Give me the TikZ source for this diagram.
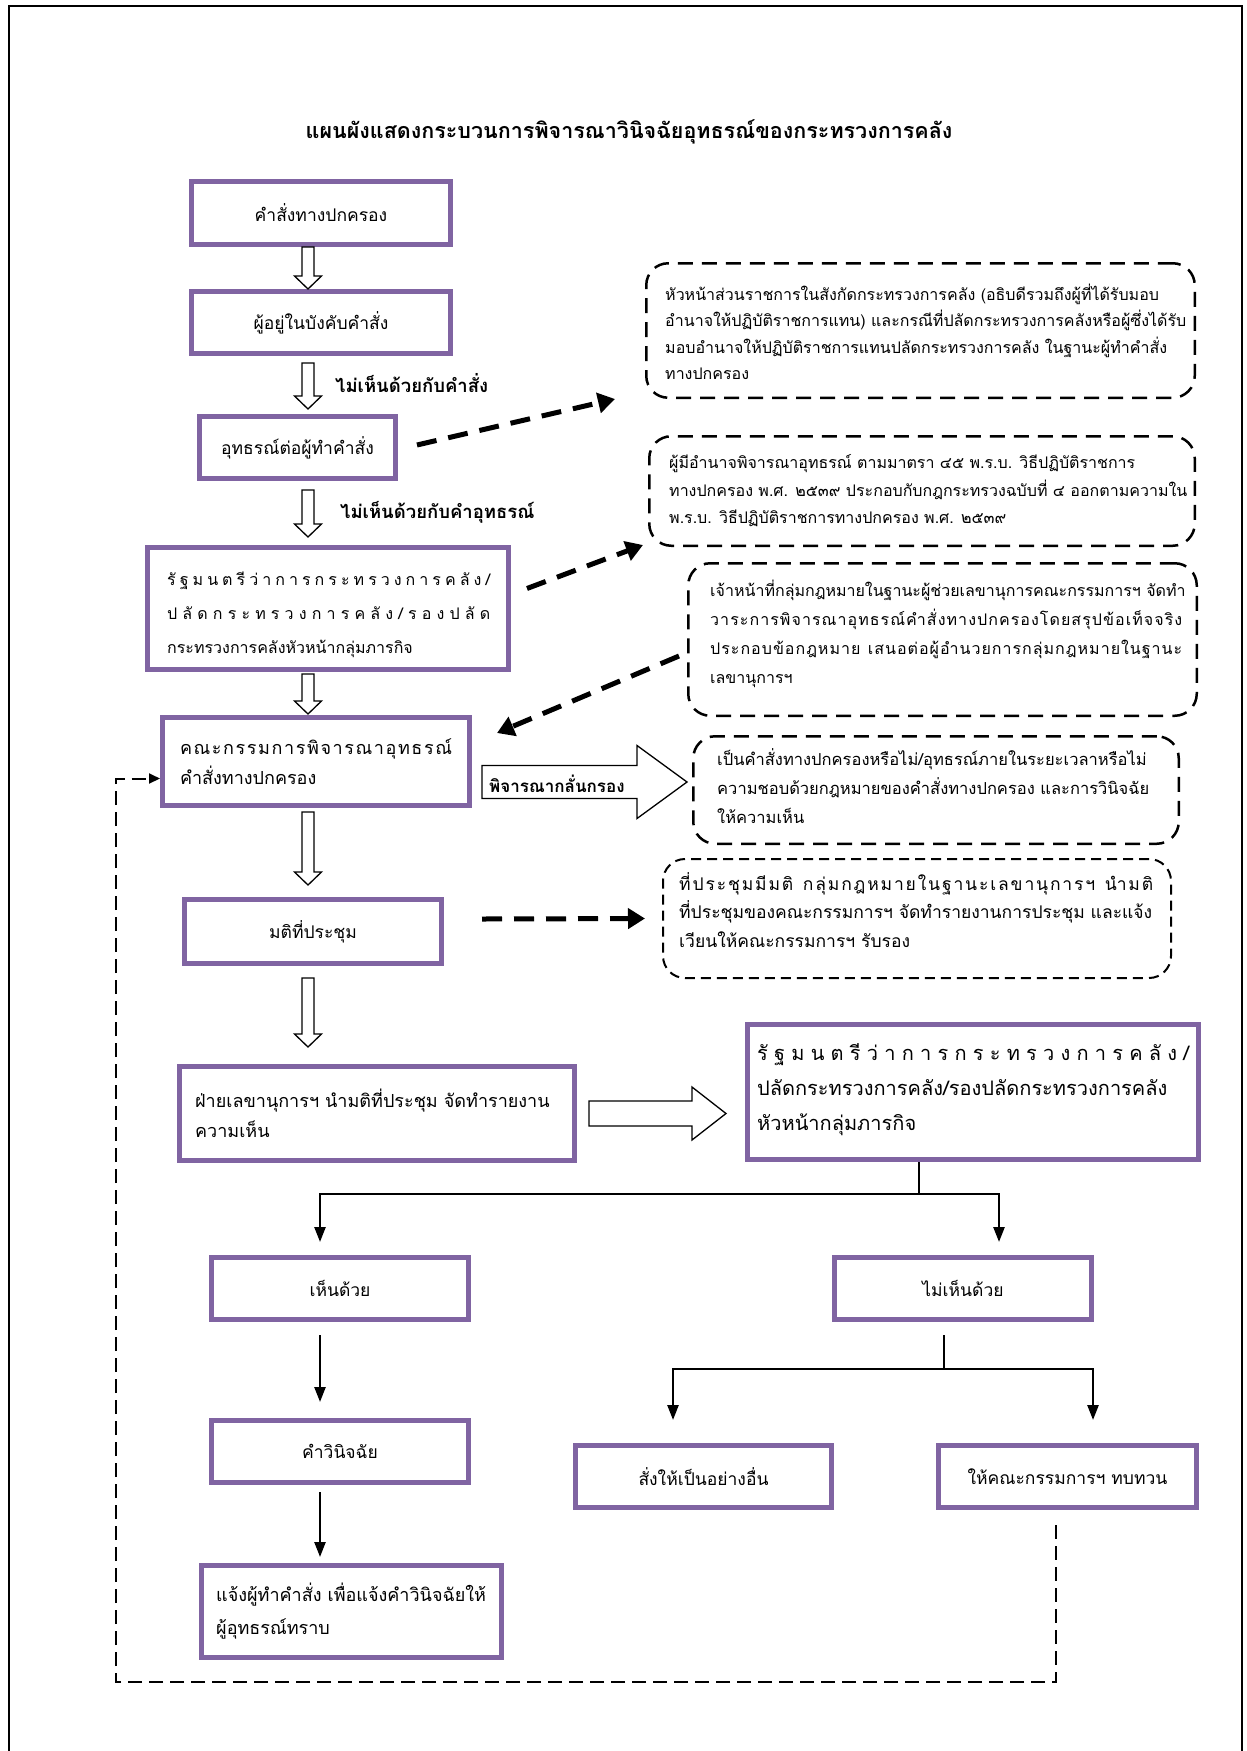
\documentclass[tikz,border=0pt]{standalone}
\usepackage{fontspec}
\usetikzlibrary{calc,arrows.meta}
\newfontfamily\thaifont[Script=Thai]{Loma}
\definecolor{boxpurple}{RGB}{128,100,162}

% letters spread over a given width
\newcommand\spreadto[2]{\makebox[#1][s]{\foreach \cl [count=\ci] in {#2}{\ifnum\ci>1 \hfill\fi\cl}}}
% hollow block arrows: from, to, gap at start, gap at end (, shaft, head, head length)
\newcommand\blockdown[4]{%
  \draw[hollow] ($(#1)+(-6,#3)$) -- ($(#2)+(-6,-#4-13)$) -- ($(#2)+(-13.5,-#4-13)$)
    -- ($(#2)+(0,-#4)$) -- ($(#2)+(13.5,-#4-13)$) -- ($(#2)+(6,-#4-13)$) -- ($(#1)+(6,#3)$) -- cycle;}
\newcommand\blockright[7]{%
  \draw[hollow] ($(#1)+(#3,-#5)$) -- ($(#2)+(-#4-#7,-#5)$) -- ($(#2)+(-#4-#7,-#6)$)
    -- ($(#2)+(-#4,0)$) -- ($(#2)+(-#4-#7,#6)$) -- ($(#2)+(-#4-#7,#5)$) -- ($(#1)+(#3,#5)$) -- cycle;}

\begin{document}
\begin{tikzpicture}[x=1pt,y=-1pt,
    stepbox/.style={draw=boxpurple, line width=5pt, fill=white, inner sep=0pt, align=center,
      font=\thaifont\fontsize{17.5}{27}\selectfont},
    notebox/.style={draw, line width=2.5pt, dash pattern=on 15pt off 9pt, rounded corners=22pt, inner sep=0pt},
    note/.style={anchor=west, align=left, inner sep=0pt, font=\thaifont\fontsize{16}{26.5}\selectfont},
    boxtext/.style={anchor=west, align=left, inner sep=0pt, font=\thaifont\fontsize{18}{30}\selectfont},
    flowlabel/.style={anchor=west, inner sep=0pt, font=\thaifont\bfseries\fontsize{18.5}{20}\selectfont},
    heading/.style={inner sep=0pt, font=\thaifont\bfseries\fontsize{21.5}{26}\selectfont},
    hollow/.style={draw, fill=white, line width=1.3pt, line join=miter},
    pointer/.style={line width=5pt, dash pattern=on 20pt off 12pt, -{Triangle[width=20pt,length=17pt]}},
    flowline/.style={line width=2.5pt},
    branch/.style={line width=2.5pt, -{Triangle[width=11pt,length=15pt]}},
    loopline/.style={line width=2pt, dash pattern=on 14pt off 7pt, -{Triangle[width=10pt,length=11pt]}}]
  \useasboundingbox (0,0) rectangle (1247,1751);
  \draw[line width=1.5pt] (9,1751) -- (9,6) -- (1242,6) -- (1242,1751);

  \node[heading] (title) at (629,132) {แผนผังแสดงกระบวนการพิจารณาวินิจฉัยอุทธรณ์ของกระทรวงการคลัง};

  % main column
  \node[stepbox, minimum width=259pt, minimum height=63pt] (order) at (321,213) {คำสั่งทางปกครอง};
  \node[stepbox, minimum width=259pt, minimum height=62pt] (subject) at (321,322.5) {ผู้อยู่ในบังคับคำสั่ง};
  \node[stepbox, minimum width=196pt, minimum height=62pt] (appeal) at (297.5,447.5) {อุทธรณ์ต่อผู้ทำคำสั่ง};
  \node[stepbox, minimum width=361pt, minimum height=122pt] (minister) at (328,608.5) {};
  \node[stepbox, minimum width=307pt, minimum height=88pt, align=left,
        font=\thaifont\fontsize{18}{30}\selectfont] (committee) at (316,761.5)
    {\spreadto{272pt}{ค,ณ,ะ,ก,ร,ร,ม,ก,า,ร,พิ,จ,า,ร,ณ,า,อุ,ท,ธ,ร,ณ์}\\ คำสั่งทางปกครอง};
  \node[stepbox, minimum width=257pt, minimum height=64pt] (resolution) at (313,931.5) {มติที่ประชุม};
  \node[stepbox, minimum width=395pt, minimum height=94pt] (secretary) at (377,1113.5) {};
  \node[stepbox, minimum width=451pt, minimum height=135pt] (approver) at (973,1092) {};
  \node[stepbox, minimum width=257pt, minimum height=62pt] (agree) at (340,1288.5) {เห็นด้วย};
  \node[stepbox, minimum width=257pt, minimum height=62pt] (disagree) at (963,1288.5) {ไม่เห็นด้วย};
  \node[stepbox, minimum width=257pt, minimum height=62pt] (ruling) at (340,1451.5) {คำวินิจฉัย};
  \node[stepbox, minimum width=256pt, minimum height=62pt] (otherwise) at (703.5,1476.5) {สั่งให้เป็นอย่างอื่น};
  \node[stepbox, minimum width=258pt, minimum height=62pt] (review) at (1067.5,1476.5) {ให้คณะกรรมการฯ ทบทวน};
  \node[stepbox, minimum width=300pt, minimum height=92pt] (notify) at (351.5,1611.5) {};

  \node[boxtext, font=\thaifont\fontsize{16}{34}\selectfont] (ministertext) at (167,615)
    {\spreadto{323pt}{รั,ฐ,ม,น,ต,รี,ว่,า,ก,า,ร,ก,ร,ะ,ท,ร,ว,ง,ก,า,ร,ค,ลั,ง,/}\\
     \spreadto{323pt}{ป,ลั,ด,ก,ร,ะ,ท,ร,ว,ง,ก,า,ร,ค,ลั,ง,/,ร,อ,ง,ป,ลั,ด}\\
     กระทรวงการคลังหัวหน้ากลุ่มภารกิจ};
  \node[boxtext] (secretarytext) at (195,1113) {ฝ่ายเลขานุการฯ นำมติที่ประชุม จัดทำรายงาน\\ ความเห็น};
  \node[boxtext, font=\thaifont\fontsize{20}{35}\selectfont] (approvertext) at (757,1090)
    {\spreadto{432pt}{รั,ฐ,ม,น,ต,รี,ว่,า,ก,า,ร,ก,ร,ะ,ท,ร,ว,ง,ก,า,ร,ค,ลั,ง,/}\\
     ปลัดกระทรวงการคลัง/รองปลัดกระทรวงการคลัง\\ หัวหน้ากลุ่มภารกิจ};
  \node[boxtext, font=\thaifont\fontsize{18}{33}\selectfont] (notifytext) at (216,1611)
    {แจ้งผู้ทำคำสั่ง เพื่อแจ้งคำวินิจฉัยให้\\ ผู้อุทธรณ์ทราบ};

  % notes on the right
  \node[notebox, minimum width=548.5pt, minimum height=134.5pt] (headnote) at (920.5,330.5) {};
  \node[notebox, minimum width=545.5pt, minimum height=109.5pt] (lawnote) at (922,491) {};
  \node[notebox, minimum width=508.5pt, minimum height=152.5pt] (agendanote) at (942.5,639.5) {};
  \node[notebox, minimum width=485.5pt, minimum height=107.5pt] (scopenote) at (936,790) {};
  \node[notebox, line width=2pt, dash pattern=on 10pt off 6pt, minimum width=508pt, minimum height=119pt] (minutesnote) at (917,918.5) {};

  \node[note] (headtext) at (665,332)
    {หัวหน้าส่วนราชการในสังกัดกระทรวงการคลัง (อธิบดีรวมถึงผู้ที่ได้รับมอบ\\
     อำนาจให้ปฏิบัติราชการแทน) และกรณีที่ปลัดกระทรวงการคลังหรือผู้ซึ่งได้รับ\\
     มอบอำนาจให้ปฏิบัติราชการแทนปลัดกระทรวงการคลัง ในฐานะผู้ทำคำสั่ง\\
     ทางปกครอง};
  \node[note, font=\thaifont\fontsize{16}{27.5}\selectfont] (lawtext) at (669,491)
    {ผู้มีอำนาจพิจารณาอุทธรณ์ ตามมาตรา ๔๕ พ.ร.บ. วิธีปฏิบัติราชการ\\
     ทางปกครอง พ.ศ. ๒๕๓๙ ประกอบกับกฎกระทรวงฉบับที่ ๔ ออกตามความใน\\
     พ.ร.บ. วิธีปฏิบัติราชการทางปกครอง พ.ศ. ๒๕๓๙};
  \node[note, font=\thaifont\fontsize{16}{29}\selectfont] (agendatext) at (710,633.5)
    {เจ้าหน้าที่กลุ่มกฎหมายในฐานะผู้ช่วยเลขานุการคณะกรรมการฯ จัดทำ\\
     \spreadto{472pt}{ว,า,ร,ะ,ก,า,ร,พิ,จ,า,ร,ณ,า,อุ,ท,ธ,ร,ณ์,คำ,สั่,ง,ท,า,ง,ป,ก,ค,ร,อ,ง,โ,ด,ย,ส,รุ,ป,ข้,อ,เ,ท็,จ,จ,ริ,ง}\\
     \spreadto{472pt}{ป,ร,ะ,ก,อ,บ,ข้,อ,ก,ฎ,ห,ม,า,ย,\ ,เ,ส,น,อ,ต่,อ,ผู้,อำ,น,ว,ย,ก,า,ร,ก,ลุ่,ม,ก,ฎ,ห,ม,า,ย,ใ,น,ฐ,า,น,ะ}\\
     เลขานุการฯ};
  \node[note, font=\thaifont\fontsize{16.5}{29}\selectfont] (scopetext) at (717,786)
    {เป็นคำสั่งทางปกครองหรือไม่/อุทธรณ์ภายในระยะเวลาหรือไม่\\
     ความชอบด้วยกฎหมายของคำสั่งทางปกครอง และการวินิจฉัย\\
     ให้ความเห็น};
  \node[note, font=\thaifont\fontsize{17.5}{28.5}\selectfont] (minutestext) at (679,910)
    {\spreadto{474pt}{ที่,ป,ร,ะ,ชุ,ม,มี,ม,ติ,\ ,ก,ลุ่,ม,ก,ฎ,ห,ม,า,ย,ใ,น,ฐ,า,น,ะ,เ,ล,ข,า,นุ,ก,า,ร,ฯ,\ ,นำ,ม,ติ}\\
     ที่ประชุมของคณะกรรมการฯ จัดทำรายงานการประชุม และแจ้ง\\
     เวียนให้คณะกรรมการฯ รับรอง};

  % block arrows down the main column
  \coordinate (axis) at (308,0);
  \blockdown{order.south -| axis}{subject.north -| axis}{0}{0}
  \blockdown{subject.south -| axis}{appeal.north -| axis}{7}{5}
  \blockdown{appeal.south -| axis}{minister.north -| axis}{9}{8}
  \blockdown{minister.south -| axis}{committee.north -| axis}{2}{1}
  \blockdown{committee.south -| axis}{resolution.north -| axis}{4}{12}
  \blockdown{resolution.south -| axis}{secretary.north -| axis}{12}{17}
  \node[flowlabel] (objection1) at (335,383) {ไม่เห็นด้วยกับคำสั่ง};
  \node[flowlabel] (objection2) at (340,512) {ไม่เห็นด้วยกับคำอุทธรณ์};

  \coordinate (screenrow) at (0,782);
  \blockright{committee.east |- screenrow}{scopenote.west |- screenrow}{10}{5}{16.5}{36.5}{50}
  \node[flowlabel, font=\thaifont\bfseries\fontsize{17}{20}\selectfont] (screening) at (489,784) {พิจารณากลั่นกรอง};
  \blockright{secretary.east}{secretary.east -| approver.west}{12}{19}{12.5}{26.5}{34}

  % dashed pointers
  \draw[pointer] ($(appeal.east)+(19,-2.5)$) -- ($(headnote.south west)+(-30,0)$);
  \draw[pointer] ($(minister.east)+(16,-20)$) -- ($(lawnote.south west)+(-5,-2)$);
  \draw[pointer] ($(agendanote.west)+(-8,16.5)$) -- ($(committee.north east)+(25,18)$);
  \draw[pointer] ($(resolution.east)+(38,-12.5)$) -- ($(minutesnote.west)+(-17,0)$);

  % decision tree
  \coordinate (split1) at ($(approver.south)+(-54,32)$);
  \draw[flowline] (approver.south -| split1) -- (split1);
  \draw[branch] (split1) -| ($(agree.north)+(-20,-13)$);
  \draw[branch] (split1) -| ($(disagree.north)+(36,-13)$);
  \draw[branch] ($(agree.south)+(-20,13)$) -- ($(ruling.north)+(-20,-16)$);
  \draw[branch] ($(ruling.south)+(-20,7)$) -- ($(notify.north)+(-31.5,-6)$);
  \coordinate (split2) at ($(disagree.south)+(-19,47)$);
  \draw[flowline] ($(disagree.south)+(-19,13)$) -- (split2);
  \draw[branch] (split2) -| ($(otherwise.north)+(-30.5,-23)$);
  \draw[branch] (split2) -| ($(review.north)+(25.5,-23)$);

  % back to the committee
  \coordinate (loopstart) at ($(review.south)+(-11.5,15)$);
  \coordinate (loopcorner) at (116,1682);
  \coordinate (loopend) at ($(committee.west)+(0,17)$);
  \draw[loopline] (loopstart) |- (loopcorner) |- (loopend);
\end{tikzpicture}
\end{document}
